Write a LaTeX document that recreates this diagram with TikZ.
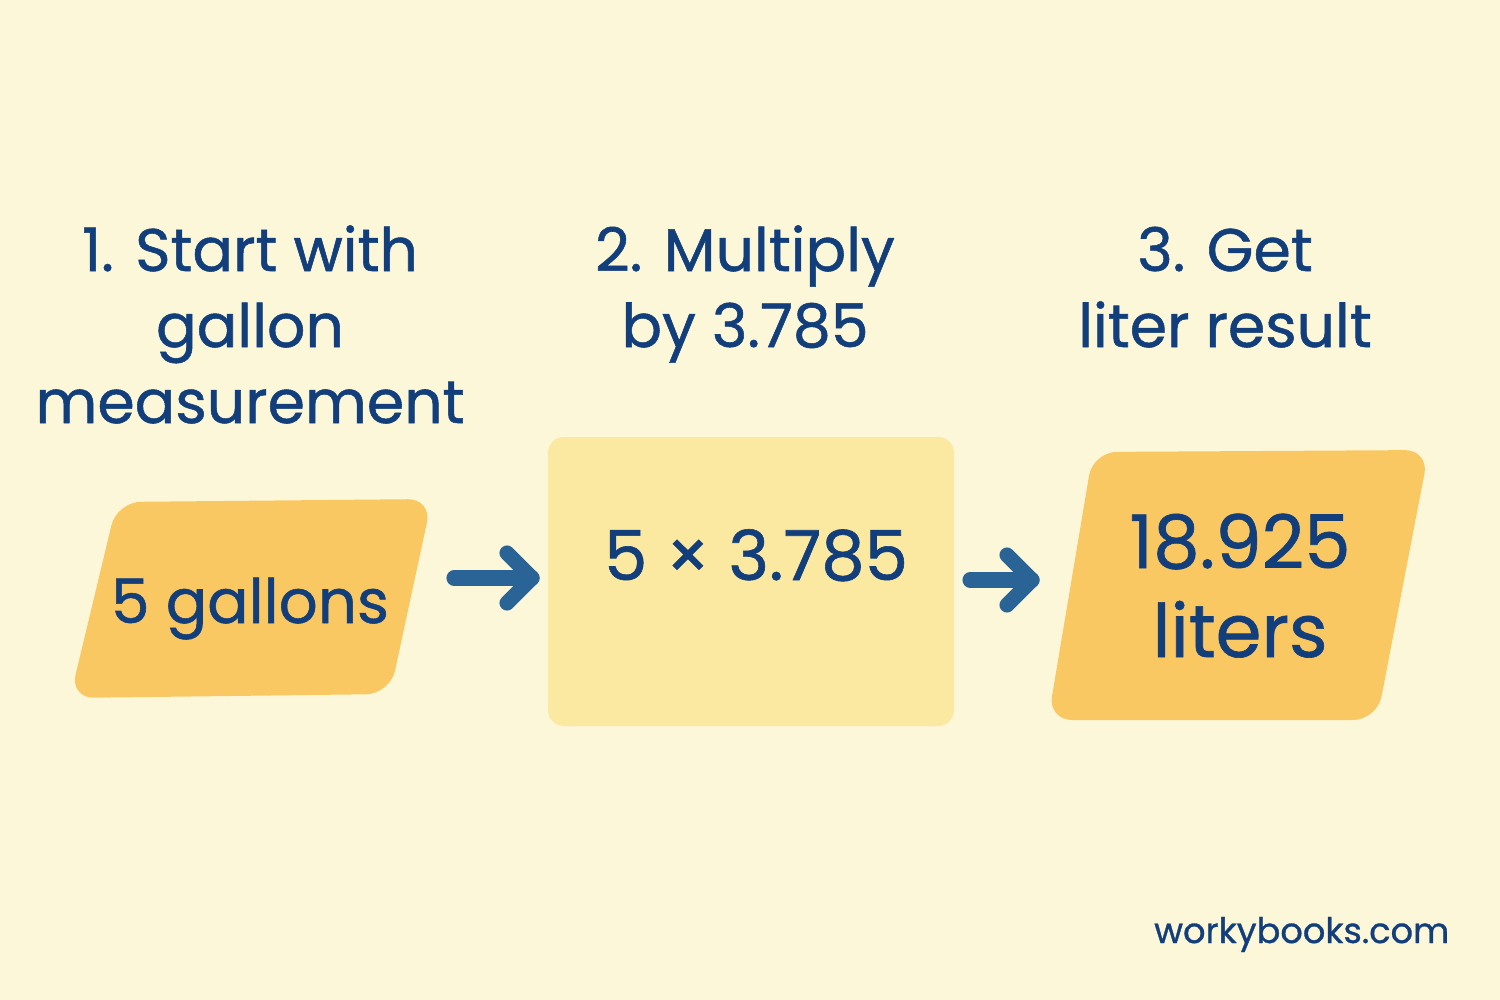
\documentclass[tikz,border=0pt]{standalone}
\usepackage{fontspec}
\setmainfont{Poppins}[FakeBold=0.9]
\usetikzlibrary{calc}
\definecolor{bg}{HTML}{FDF7D9}
\definecolor{gold}{HTML}{FAC863}
\definecolor{pale}{HTML}{FCE9A1}
\definecolor{ink}{HTML}{123F7B}
\definecolor{arrowblue}{HTML}{2A6496}
\begin{document}
\begin{tikzpicture}[x=0.01cm,y=-0.01cm,
  heading/.style={text=ink, align=center, anchor=base, inner sep=0pt,
    font=\fontsize{17.1}{21.6}\selectfont},
  boxtext/.style={text=ink, align=center, anchor=base, inner sep=0pt},
  flow/.style={draw=arrowblue, line width=4.3pt, line cap=round, line join=round},
  goldshape/.style={fill=gold, rounded corners=6.8pt},
  paleshape/.style={fill=pale, rounded corners=4.5pt}]
\fill[bg] (0,0) rectangle (1500,1000);
\useasboundingbox (0,0) rectangle (1500,1000);

% shapes
\path[goldshape] (117,502) -- (432,499) -- (390,694) -- (70,698) -- cycle;
\path[paleshape] (548,437) rectangle (954,726);
\path[goldshape] (1093,452) -- (1429,450) -- (1377,720) -- (1048,720) -- cycle;

% headings (base anchor = last line)
\node[heading] (h1) at (250,423) {1. Start with\\gallon\\measurement};
\node[heading] (h2) at (745,347) {2. Multiply\\by 3.785};
\node[heading] (h3) at (1225,347) {3. Get\\liter result};

% box texts
\node[boxtext, font=\fontsize{17.4}{21}\selectfont] (b1) at (250,623) {5 gallons};
\node[boxtext, font=\fontsize{19.6}{24}\selectfont] (b2) at (756,580) {5 × 3.785};
\node[boxtext, font=\fontsize{21}{25.3}\selectfont] (b3) at (1240,657) {18.925\\liters};

% arrows
\coordinate (a1s) at (454,578);
\coordinate (a1e) at (532,578);
\coordinate (a2s) at (970,580);
\coordinate (a2e) at (1032,580);
\draw[flow] (a1s) -- (a1e);
\draw[flow] ($(a1e)+(-25,-25)$) -- (a1e) -- ($(a1e)+(-25,25)$);
\draw[flow] (a2s) -- (a2e);
\draw[flow] ($(a2e)+(-25,-25)$) -- (a2e) -- ($(a2e)+(-25,25)$);

% footer
\node[text=ink, anchor=base east, inner sep=0pt, font=\fontsize{10}{12}\selectfont] (wb) at (1450,943) {workybooks.com};
\end{tikzpicture}
\end{document}
